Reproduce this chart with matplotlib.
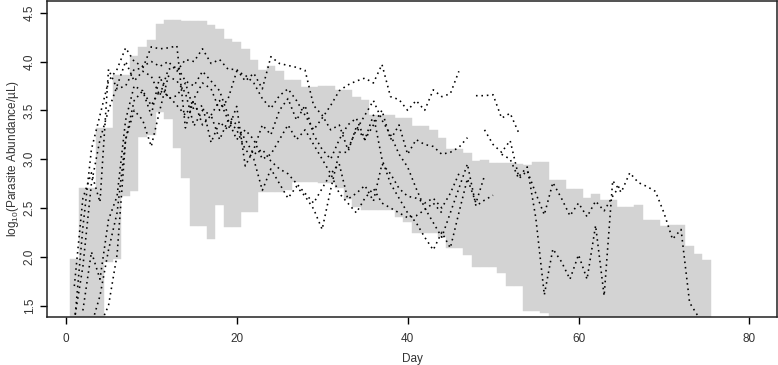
import numpy as np
import matplotlib
matplotlib.use("Agg")
import matplotlib.pyplot as plt

plt.rcParams['font.family'] = ['Liberation Sans', 'DejaVu Sans']
plt.rcParams['mathtext.fontset'] = 'custom'
plt.rcParams['mathtext.rm'] = 'Liberation Sans'

nan = np.nan

# day index of the band and the lines
days = list(range(1, 76))

# grey band: lower / upper limit for each day
band_low = [1.0, 1.0, 1.0, 1.0, 1.95, 1.98, 2.62, 2.67, 3.23, 3.25,
            3.48, 3.41, 3.11, 2.81, 2.32, 2.32, 2.18, 2.53, 2.31, 2.31,
            2.46, 2.46, 2.66, 2.66, 2.66, 2.68, 2.77, 2.77, 2.77, 2.76,
            2.76, 2.70, 2.59, 2.51, 2.48, 2.48, 2.48, 2.48, 2.41, 2.36,
            2.24, 2.24, 2.24, 2.20, 2.09, 2.09, 2.02, 1.90, 1.90, 1.90,
            1.83, 1.70, 1.70, 1.44, 1.44, 1.42, 1.0, 1.0, 1.0, 1.0,
            1.0, 1.0, 1.0, 1.0, 1.0, 1.0, 1.0, 1.0, 1.0, 1.0,
            1.0, 1.0, 1.0, 1.0, 1.0]
band_high = [1.98, 2.70, 2.70, 3.32, 3.32, 3.86, 3.86, 4.06, 4.15, 4.22,
             4.38, 4.43, 4.43, 4.42, 4.42, 4.42, 4.37, 4.33, 4.23, 4.20,
             4.13, 4.02, 3.91, 3.95, 3.90, 3.81, 3.81, 3.74, 3.74, 3.75,
             3.75, 3.71, 3.71, 3.64, 3.61, 3.45, 3.45, 3.45, 3.42, 3.42,
             3.34, 3.34, 3.30, 3.22, 3.10, 3.10, 3.06, 2.98, 2.99, 2.96,
             2.96, 2.96, 2.95, 2.94, 2.97, 2.97, 2.79, 2.79, 2.69, 2.69,
             2.60, 2.64, 2.58, 2.58, 2.51, 2.51, 2.53, 2.38, 2.38, 2.32,
             2.33, 2.33, 2.11, 2.03, 1.97]

# individual parasite curves (log10 abundance), NaN = no value
host_a = [1.70, 2.60, 2.86, 2.56, 3.92, 3.72, 3.75, 3.92, 3.93, 4.15,
          4.13, 4.14, 4.16, 3.32, 3.62, 3.78, 3.72, 3.50, 3.62, 3.90,
          3.86, 3.78, 3.62, 3.52, 3.65, 3.72, 3.60, 3.45, 3.30, 3.42,
          3.55, 3.70, 3.76, 3.80, 3.83, 3.78, 3.97, 3.64, 3.61, 3.50,
          3.60, 3.50, 3.71, 3.64, 3.67, 3.90, nan, 3.65, 3.65, 3.66,
          3.42, 3.47, 3.27]
host_b = [nan, 1.45, 2.05, 1.77, 2.38, 2.62, 3.40, 3.75, 3.70, 3.45,
          3.85, 3.62, 3.65, 3.78, 3.50, 3.55, 3.17, 3.38, 3.30, 3.54,
          2.93, 3.10, 3.35, 3.25, 3.50, 3.62, 3.40, 3.55, 3.25, 3.10,
          3.00, 3.20, 3.35, 3.42, 3.20, 3.35, 3.50, 3.20, 3.35, 3.05,
          3.20, 3.15, 3.13, 3.05, 3.07, 3.12, 3.22, nan, 3.30, 3.15,
          3.07, 3.19, 2.82, 2.92, 2.40, 1.61, 2.08, 1.95, 1.77, 2.02,
          1.77, 2.32, 1.60, 2.78, 2.66, 2.86, 2.76, 2.72, 2.67, 2.45,
          2.18, 2.28, 1.53, 1.39, 1.30]
host_c = [1.30, 2.30, 3.10, 3.45, 3.80, 3.92, 4.14, 4.00, 3.95, 4.00,
          3.95, 4.00, 3.90, 4.02, 4.00, 4.13, 3.98, 4.02, 3.92, 3.92,
          3.80, 3.88, 3.72, 4.05, 3.98, 3.96, 3.94, 3.91, 3.55, 3.45,
          3.30, 3.35, 3.10, 3.30, 3.45, 3.60, 3.40, 3.25, 3.05, 2.92,
          2.70, 2.50, 2.35, 2.20, 2.45, 2.70, 2.95, 2.52, 2.58, 2.63]
host_d = [nan, nan, 1.30, 1.60, 2.07, 2.45, 3.20, 3.60, 3.70, 3.55,
          3.70, 3.65, 3.55, 3.45, 3.60, 3.35, 3.45, 3.20, 3.40, 3.30,
          3.10, 3.00, 2.68, 2.90, 2.75, 2.60, 2.72, 2.62, 2.49, 2.28,
          2.69, 3.07, 3.07, 3.33, 3.20, 3.45, 3.00, 2.75, 2.60, 2.45,
          2.35, 2.20, 2.07, 2.25, 2.09, 2.45, 2.80, 2.55, 2.83]
host_e = [nan, nan, nan, 1.30, 1.50, 2.02, 3.20, 3.50, 3.40, 3.13,
          3.50, 3.85, 3.80, 3.68, 3.34, 3.50, 3.45, 3.60, 3.40, 3.20,
          3.30, 3.20, 3.00, 3.05, 3.20, 3.35, 3.20, 3.30, 3.15, 3.00,
          2.85, 2.95, 2.59, 2.65, 2.73, 2.57, 2.95, 2.85, 2.70, 2.62,
          2.60, 2.55, 2.60, 2.50, 2.65, 2.85]
host_f = [1.35, 1.90, 2.75, 3.20, 3.50, 3.75, 4.00, 3.80, 3.90, 3.85,
          3.65, 3.92, 3.95, 3.80, 3.75, 3.90, 3.80, 3.70, 3.45, 3.35,
          3.20, 3.05, 3.10, 2.98, 2.90, 2.85, 2.75, 2.65, 2.55, 2.70,
          2.85, 2.65, 2.55, 2.45, 2.60, 2.70, 2.55, 2.50, 2.45, 2.40,
          2.42, 2.48, 2.55, 2.45, nan, nan, nan, nan, nan, nan,
          3.05, 3.00, 2.80, 2.88, 2.65, 2.43, 2.76, 2.60, 2.42, 2.55,
          2.41, 2.57, 2.47, 2.62, 2.75]

hosts = [host_a, host_b, host_c, host_d, host_e, host_f]

fig = plt.figure(figsize=(7.78, 3.65), dpi=100)
ax = fig.add_axes([0.0604, 0.1307, 0.938, 0.8666])

low = np.array(band_low)
high = np.array(band_high)
ax.bar(days, high - low, bottom=low, width=1.0, color='#D3D3D3',
       edgecolor='#D3D3D3', linewidth=0.3, zorder=1)

for h in hosts:
    ax.plot(days[:len(h)], h, color='black', linestyle=(0, (1, 2.4)),
            linewidth=1.15, zorder=2)

ax.set_xlim(-2.2, 83.2)
ax.set_ylim(1.38, 4.62)
ax.set_xticks([0, 20, 40, 60, 80])
ax.set_yticks([1.5, 2.0, 2.5, 3.0, 3.5, 4.0, 4.5])
ax.set_yticklabels(['1.5', '2.0', '2.5', '3.0', '3.5', '4.0', '4.5'],
                   rotation=90, va='center')
ax.tick_params(axis='both', direction='out', length=5, width=1,
               labelsize=8.5, colors='black', labelcolor='#333333')
ax.tick_params(axis='x', pad=6)
ax.tick_params(axis='y', pad=3)
for s in ax.spines.values():
    s.set_linewidth(1.1)
    s.set_color('#222222')

fig.text(0.5295, 0.016, 'Day', ha='center', va='center', fontsize=8.5,
         color='#333333')
fig.text(0.017, 0.565, 'log$_{10}$(Parasite Abundance/µL)',
         rotation=90, ha='center', va='center', fontsize=8.5,
         color='#333333')

fig.savefig('out.png', dpi=100)
